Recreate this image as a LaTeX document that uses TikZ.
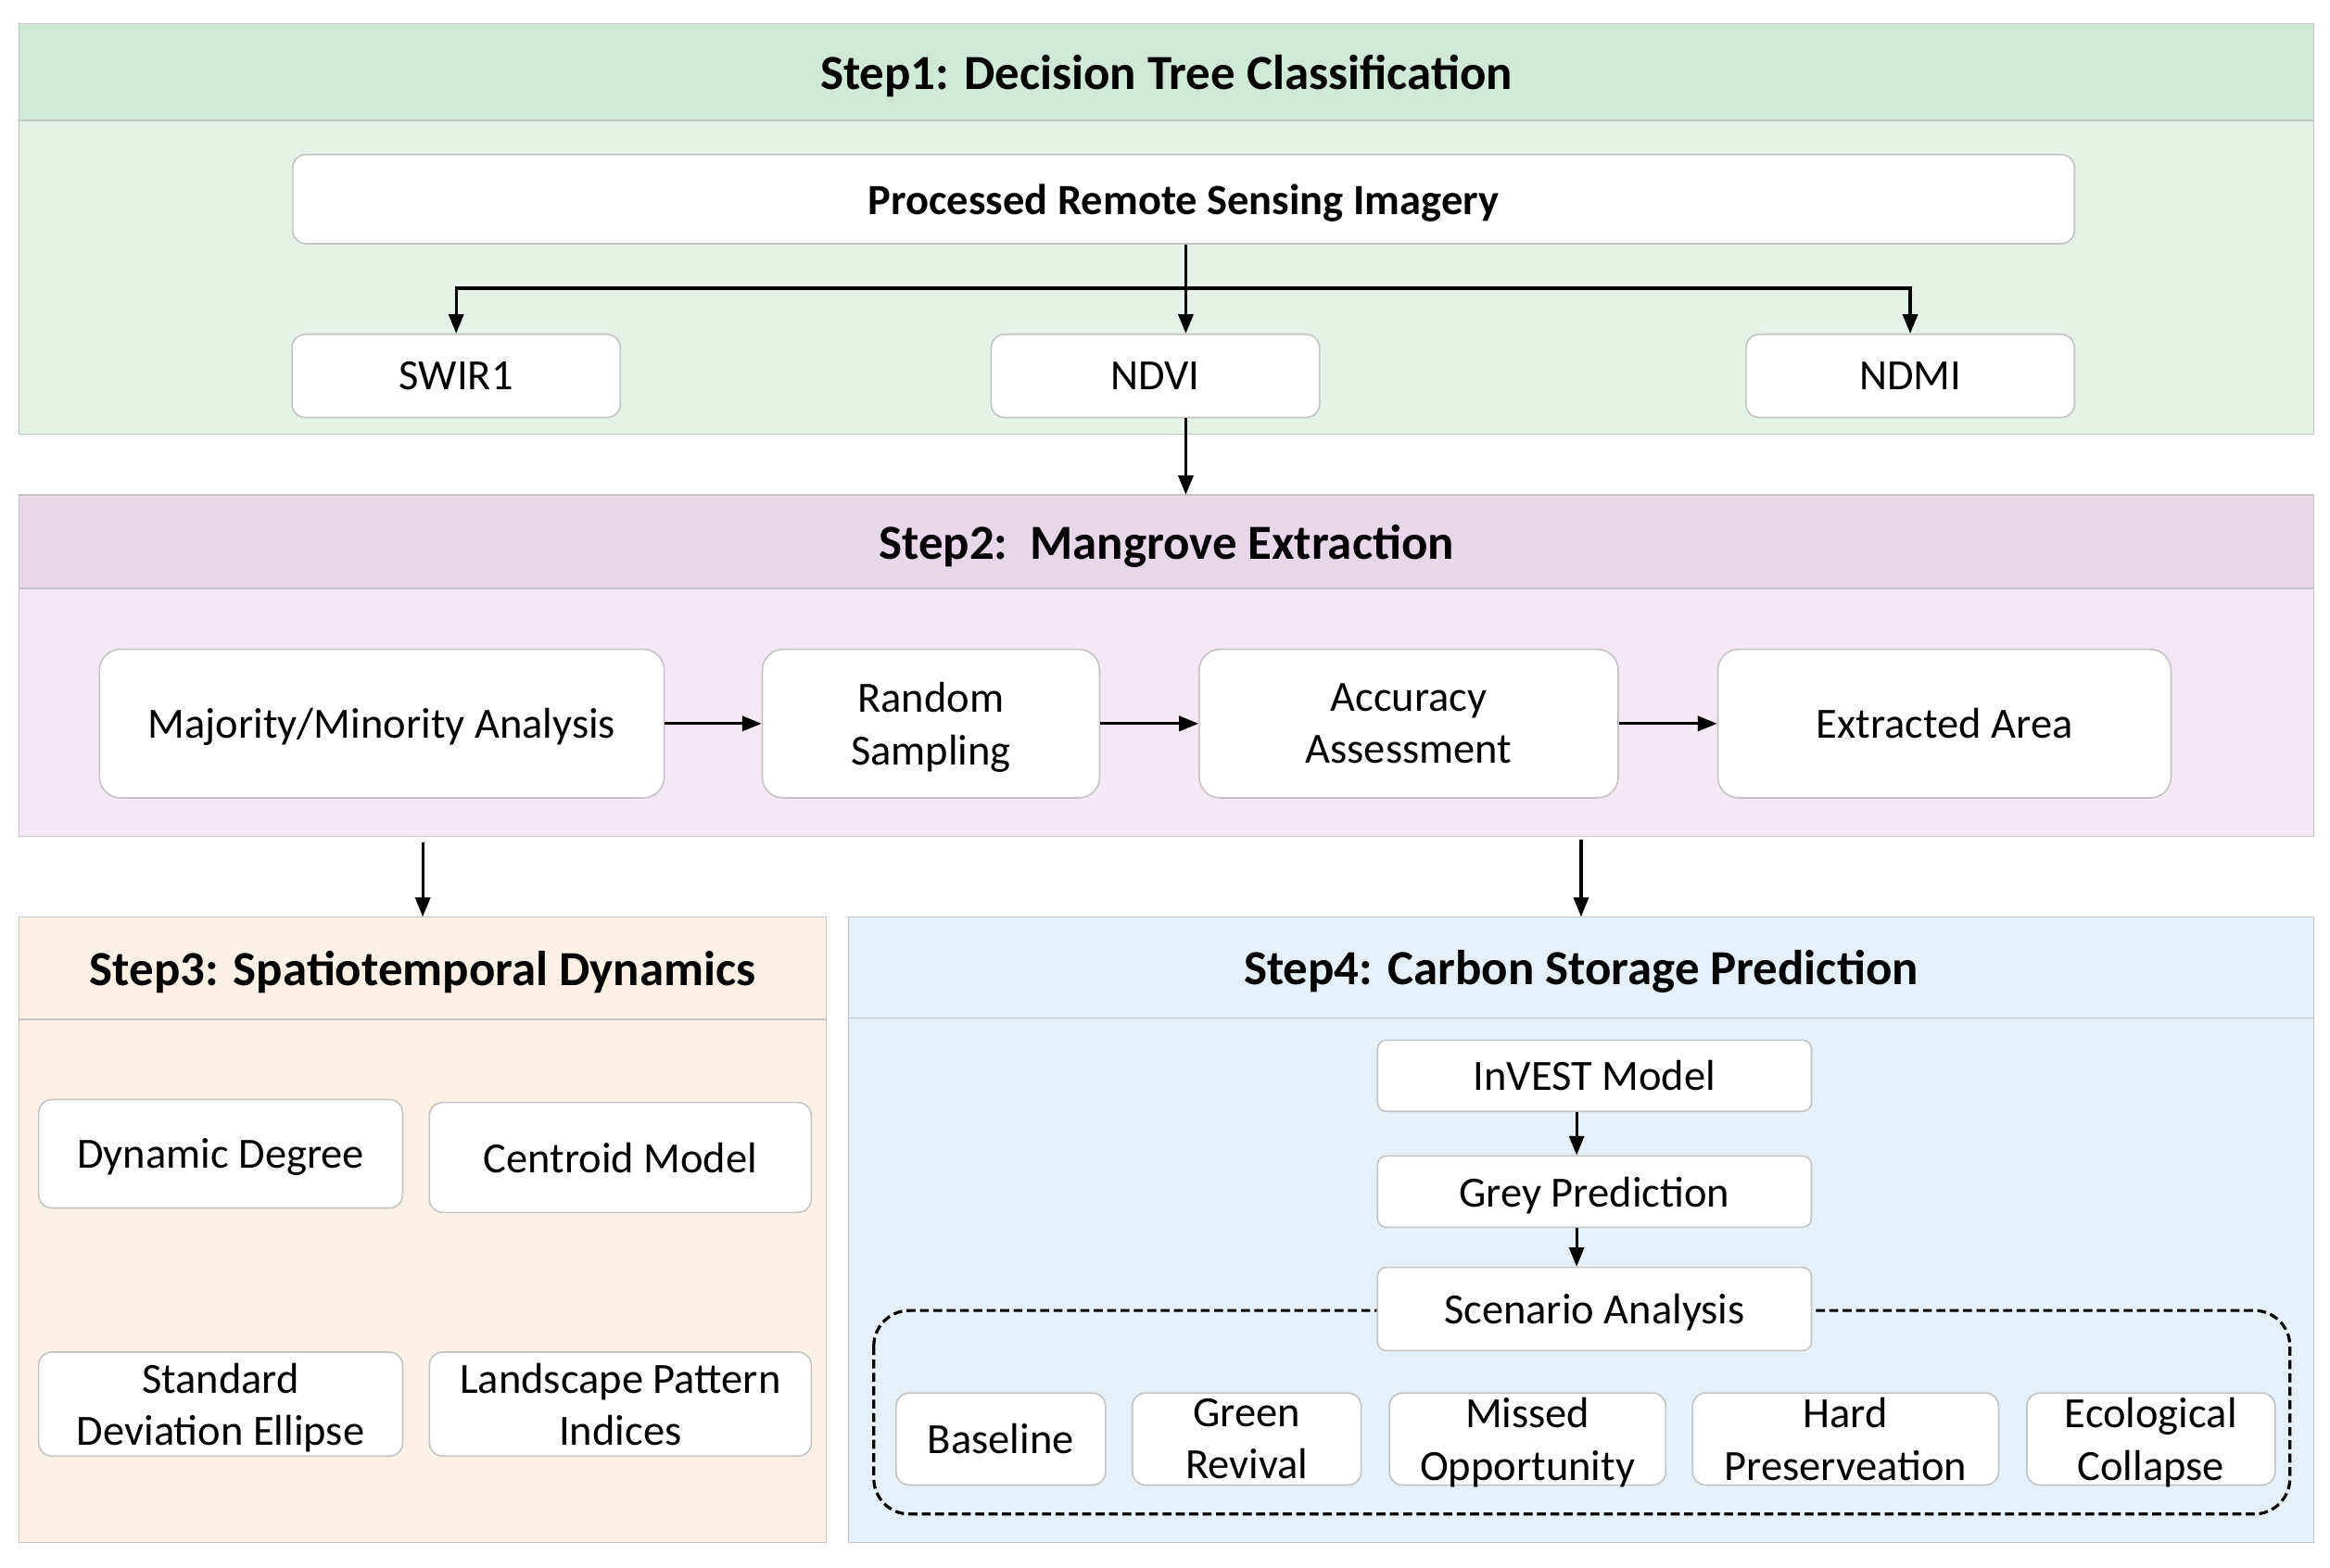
\documentclass[tikz,border=0pt]{standalone}
\usepackage{fontspec}
\setmainfont{Carlito}
\usetikzlibrary{arrows.meta,positioning}
\definecolor{LineGray}{HTML}{C4C4C4}
\definecolor{GreenHead}{HTML}{CFE8D7}
\definecolor{GreenBody}{HTML}{E4F2E8}
\definecolor{PurpHead}{HTML}{E8D6E9}
\definecolor{PurpBody}{HTML}{F3E8F3}
\definecolor{PeachBack}{HTML}{FDF0E4}
\definecolor{BlueBack}{HTML}{E4F0FA}
\newcommand{\titlefont}{\fontsize{33}{40}\selectfont\bfseries}
\newcommand{\boxfont}{\fontsize{29}{35}\selectfont}
\tikzset{>={Triangle[length=13pt,width=10pt]},
 panel/.style={draw=LineGray,line width=0.8pt,inner sep=0pt,outer sep=0pt,text depth=0pt},
 box/.style={draw=LineGray,fill=white,line width=1pt,rounded corners=9pt,
  align=center,inner sep=0pt,text depth=0pt,font=\boxfont},
 flow/.style={->,line width=2pt}}
\begin{document}
\begin{tikzpicture}[x=1pt,y=-1pt]
\useasboundingbox (0,0) rectangle (1568,1055);
% Step1 panel
\node[panel,fill=GreenBody,minimum width=1544pt,minimum height=276pt] (s1) at (785,154) {};
\node[panel,fill=GreenHead,minimum width=1544pt,minimum height=65pt,font=\titlefont]
 (s1head) at (785,48.5) {Step1: Decision Tree Classification};
\node[box,font=\boxfont\bfseries,minimum width=1199pt,minimum height=60pt] (img) at (796.5,134) {Processed Remote Sensing Imagery};
\foreach \name/\cx/\lab in {swir/307/SWIR1,ndvi/777.5/NDVI,ndmi/1285.5/NDMI}
 \node[box,minimum width=221pt,minimum height=56pt] (\name) at (\cx,253) {\lab};
\coordinate (fork) at (798,194);
\draw[flow] (img.south -| fork) -- (ndvi.north -| fork);
\draw[flow] (fork) -| (swir.north);
\draw[flow] (fork) -| (ndmi.north);
% Step2 panel
\node[panel,fill=PurpBody,minimum width=1544pt,minimum height=230pt] (s2) at (785,448) {};
\node[panel,fill=PurpHead,minimum width=1544pt,minimum height=63pt,font=\titlefont]
 (s2head) at (785,364.5) {Step2:\ \ Mangrove Extraction};
\draw[flow] (ndvi.south -| fork) -- (s2head.north -| fork);
\foreach \name/\cx/\w/\lab in {maj/257/380/{Majority/Minority Analysis},rnd/626.5/227/Random\\Sampling,
 acc/948/282/Accuracy\\Assessment,ext/1308.5/305/Extracted Area}
 \node[box,rounded corners=14pt,minimum width=\w pt,minimum height=100pt] (\name) at (\cx,487) {\lab};
\draw[flow] (maj) -- (rnd);
\draw[flow] (rnd) -- (acc);
\draw[flow] (acc) -- (ext);
% Step3 panel
\node[panel,fill=PeachBack,minimum width=543pt,minimum height=421pt] (s3) at (284.5,827.5) {};
\node[panel,fill=PeachBack,minimum width=543pt,minimum height=69pt,font=\titlefont]
 (s3head) at (284.5,651.5) {Step3: Spatiotemporal Dynamics};
\node[box,minimum width=245pt,minimum height=73pt] (dyn) at (148.5,776.5) {Dynamic Degree};
\node[box,minimum width=257pt,minimum height=74pt] (cen) at (417.5,779) {Centroid Model};
\node[box,minimum width=245pt,minimum height=70pt] (sde) at (148.5,945) {Standard\\Deviation Ellipse};
\node[box,minimum width=257pt,minimum height=70pt] (lpi) at (417.5,945) {Landscape Pattern\\Indices};
% Step4 panel
\node[panel,fill=BlueBack,minimum width=986pt,minimum height=421pt] (s4) at (1064,827.5) {};
\node[panel,fill=BlueBack,minimum width=986pt,minimum height=68pt,font=\titlefont]
 (s4head) at (1064,651) {Step4: Carbon Storage Prediction};
\draw[flow,shorten <=4pt] (s2.south -| s3head) -- (s3head.north);
\draw[flow,shorten <=2pt] (s2.south -| s4head) -- (s4head.north);
\node[box,rounded corners=6pt,minimum width=292pt,minimum height=48pt] (inv) at (1073,724) {InVEST Model};
\node[box,rounded corners=6pt,minimum width=292pt,minimum height=48pt] (grey) at (1073,802) {Grey Prediction};
\draw[line width=2pt,dash pattern=on 6pt off 3pt,rounded corners=24pt] (588,882) rectangle (1541,1019);
\node[box,rounded corners=6pt,minimum width=292pt,minimum height=56pt] (scen) at (1073,881) {Scenario Analysis};
\draw[flow] ([xshift=-12pt]inv.south) -- ([xshift=-12pt]grey.north);
\draw[flow] ([xshift=-12pt]grey.south) -- ([xshift=-12pt]scen.north);
\foreach \name/\cx/\w/\lab in {base/673.5/141/Baseline,green/839/154/Green\\Revival,
 missed/1028/186/Missed\\Opportunity,hard/1242/206/Hard\\Preserveation,eco/1447.5/167/Ecological\\Collapse}
 \node[box,minimum width=\w pt,minimum height=62pt] (\name) at (\cx,968.5) {\lab};
\end{tikzpicture}
\end{document}
